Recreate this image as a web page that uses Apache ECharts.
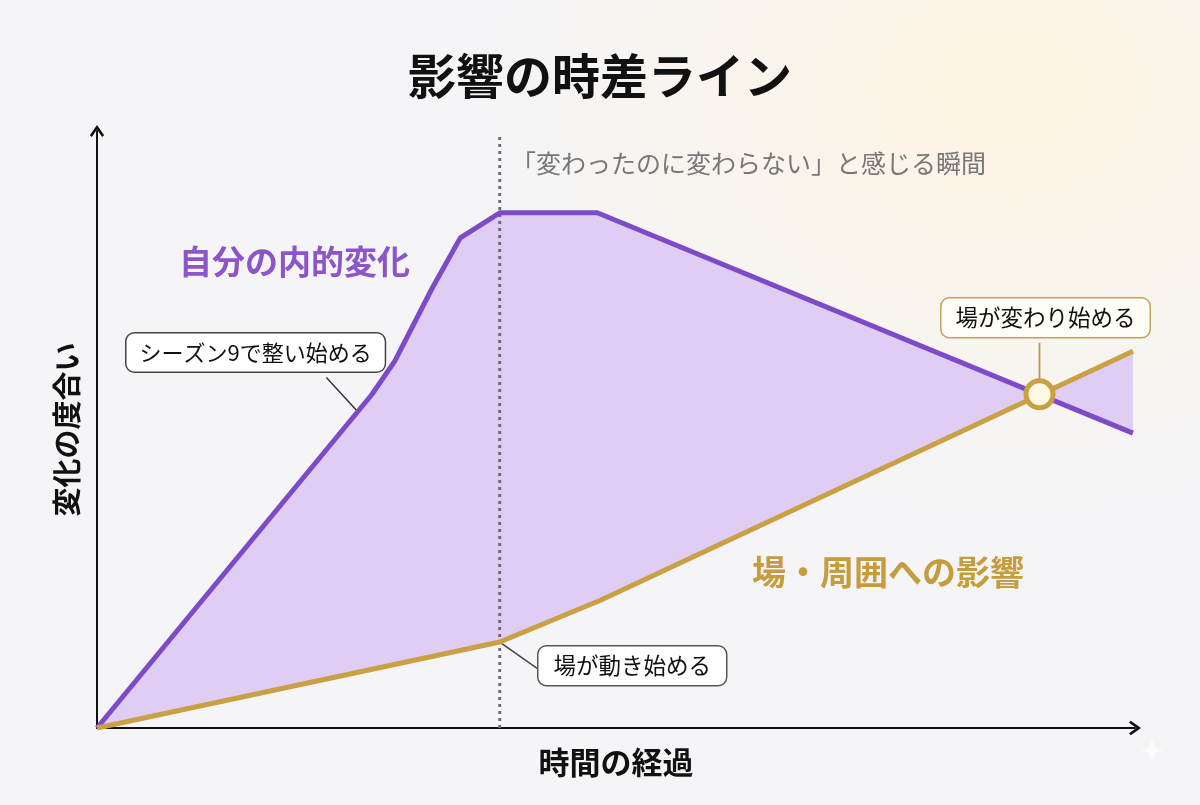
<!DOCTYPE html>
<html>
<head>
<meta charset="utf-8">
<script src="https://cdn.jsdelivr.net/npm/echarts@6/dist/echarts.min.js"></script>
<style>
  html, body { margin: 0; padding: 0; }
  body {
    width: 1200px; height: 805px;
    background: radial-gradient(ellipse 520px 420px at 1010px 90px, #fdf4e2 0%, rgba(247,246,247,0) 100%), #f5f5f7;
  }
  #main { width: 1200px; height: 805px; }
</style>
</head>
<body>
<div id="main"></div>
<script>
// 自分の内的変化 (x = 時間, y = 変化の度合い, 0-100)
var innerX = [0, 26.5, 28.7, 32.3, 35.0, 38.8, 48.2, 99.8];
var innerY = [0, 55.9, 61.5, 73.7, 82.1, 86.3, 86.3, 49.4];
// 場・周囲への影響
var fieldX = [0, 38.8, 48.5, 99.8];
var fieldY = [0, 14.4, 21.4, 63.1];
// 交差点（場が変わり始める）
var crossPoint = [90.8, 55.9];
// 「変わったのに変わらない」瞬間
var momentX = 38.8;

function zip(xs, ys) {
  return xs.map(function (x, i) { return [x, ys[i]]; });
}
var inner = zip(innerX, innerY);
var field = zip(fieldX, fieldY);

var FONT = '"Noto Sans CJK JP", "Noto Sans", sans-serif';
var PURPLE = '#7d4bc8';
var GOLD = '#c9a043';

var chartDom = document.getElementById('main');
var myChart = echarts.init(chartDom);
var option;

var chevron = 'path://M5,0 L10,7.2 L8.6,8.4 L5,3.2 L1.4,8.4 L0,7.2 Z';

option = {
  backgroundColor: 'transparent',
  textStyle: { fontFamily: FONT },
  title: {
    text: '影響の時差ライン',
    left: 'center',
    top: 47,
    textStyle: { fontSize: 48, fontWeight: 'bold', color: '#111', fontFamily: FONT }
  },
  grid: { left: 97, right: 65, top: 131, bottom: 77 },
  xAxis: {
    type: 'value', min: 0, max: 100,
    name: '時間の経過', nameLocation: 'middle', nameGap: 19,
    nameTextStyle: { fontSize: 31, fontWeight: 'bold', color: '#111', fontFamily: FONT },
    axisLine: { lineStyle: { color: '#111', width: 2 }, symbol: ['none', chevron], symbolSize: [15, 12] },
    axisTick: { show: false }, axisLabel: { show: false }, splitLine: { show: false }
  },
  yAxis: {
    type: 'value', min: 0, max: 100,
    name: '変化の度合い', nameLocation: 'middle', nameGap: 16, nameRotate: 90,
    nameTextStyle: { fontSize: 29, fontWeight: 'bold', color: '#111', fontFamily: FONT },
    axisLine: { show: true, lineStyle: { color: '#111', width: 2 }, symbol: ['none', chevron], symbolSize: [15, 12] },
    axisTick: { show: false }, axisLabel: { show: false }, splitLine: { show: false }
  },
  series: [
    {
      // 時差の帯
      type: 'custom',
      data: [[0, 0]],
      z: 1,
      silent: true,
      renderItem: function (params, api) {
        var pts = inner.map(function (p) { return api.coord(p); })
          .concat(field.slice().reverse().map(function (p) { return api.coord(p); }));
        return { type: 'polygon', shape: { points: pts }, style: { fill: '#dfcdf4' } };
      }
    },
    {
      name: 'moment', type: 'line', z: 2, symbol: 'none', silent: true,
      data: [[momentX, 0], [momentX, 99]],
      lineStyle: { color: '#6f6b78', width: 3, type: [3, 4] }
    },
    {
      name: '自分の内的変化', type: 'line', z: 3, symbol: 'none',
      data: inner,
      lineStyle: { color: PURPLE, width: 5, join: 'round' }
    },
    {
      name: '場・周囲への影響', type: 'line', z: 3, symbol: 'none',
      data: field,
      lineStyle: { color: GOLD, width: 5 }
    },
    // 吹き出しの引き出し線
    {
      type: 'line', z: 2, symbol: 'none', silent: true,
      data: [[22.1, 58.7], [25.1, 53.0]],
      lineStyle: { color: '#333', width: 1.5 }
    },
    {
      type: 'line', z: 2, symbol: 'none', silent: true,
      data: [[38.8, 14.4], [42.4, 10.0]],
      lineStyle: { color: '#444', width: 1.5 }
    },
    {
      type: 'line', z: 2, symbol: 'none', silent: true,
      data: [[crossPoint[0], 64.5], crossPoint],
      lineStyle: { color: '#b89a55', width: 1.8 }
    },
    {
      type: 'scatter', z: 6, silent: true,
      data: [crossPoint],
      symbolSize: 27,
      itemStyle: { color: '#fff8e4', borderColor: GOLD, borderWidth: 5, opacity: 1 }
    }
  ],
  graphic: [
    {
      type: 'text', left: 511, top: 151,
      style: { text: '「変わったのに変わらない」と感じる瞬間', font: '25px ' + FONT, fill: '#777' }
    },
    {
      type: 'text', left: 179, top: 245,
      style: { text: '自分の内的変化', font: 'bold 33px ' + FONT, fill: '#8c55c9' }
    },
    {
      type: 'text', left: 752, top: 555,
      style: { text: '場・周囲への影響', font: 'bold 34px ' + FONT, fill: '#c59c3e' }
    },
    {
      type: 'text', left: 552, top: 389,
      style: { text: '影響の時差', font: 'bold 42px ' + FONT, fill: '#111' }
    },
    {
      type: 'text', left: 125, top: 332, z: 10,
      style: {
        text: 'シーズン9で整い始める', font: '22px ' + FONT, fill: '#111',
        backgroundColor: '#fff', borderColor: '#444', borderWidth: 1.5, borderRadius: 8,
        padding: [8, 13, 8, 13]
      }
    },
    {
      type: 'text', left: 537, top: 645, z: 10,
      style: {
        text: '場が動き始める', font: '22.5px ' + FONT, fill: '#111',
        backgroundColor: '#fff', borderColor: '#555', borderWidth: 1.5, borderRadius: 8,
        padding: [8, 15, 8, 15]
      }
    },
    {
      type: 'text', left: 940, top: 297, z: 10,
      style: {
        text: '場が変わり始める', font: '22.5px ' + FONT, fill: '#111',
        backgroundColor: '#fffdf8', borderColor: '#c2a25e', borderWidth: 1.5, borderRadius: 8,
        padding: [8, 14, 8, 14]
      }
    },
    {
      type: 'polygon', left: 1140, top: 738, z: 0, silent: true,
      shape: { points: [[12, 0], [15, 9], [24, 12], [15, 15], [12, 24], [9, 15], [0, 12], [9, 9]] },
      style: { fill: '#ffffff', opacity: 0.6 }
    }
  ]
};

option && myChart.setOption(option);
</script>
</body>
</html>
